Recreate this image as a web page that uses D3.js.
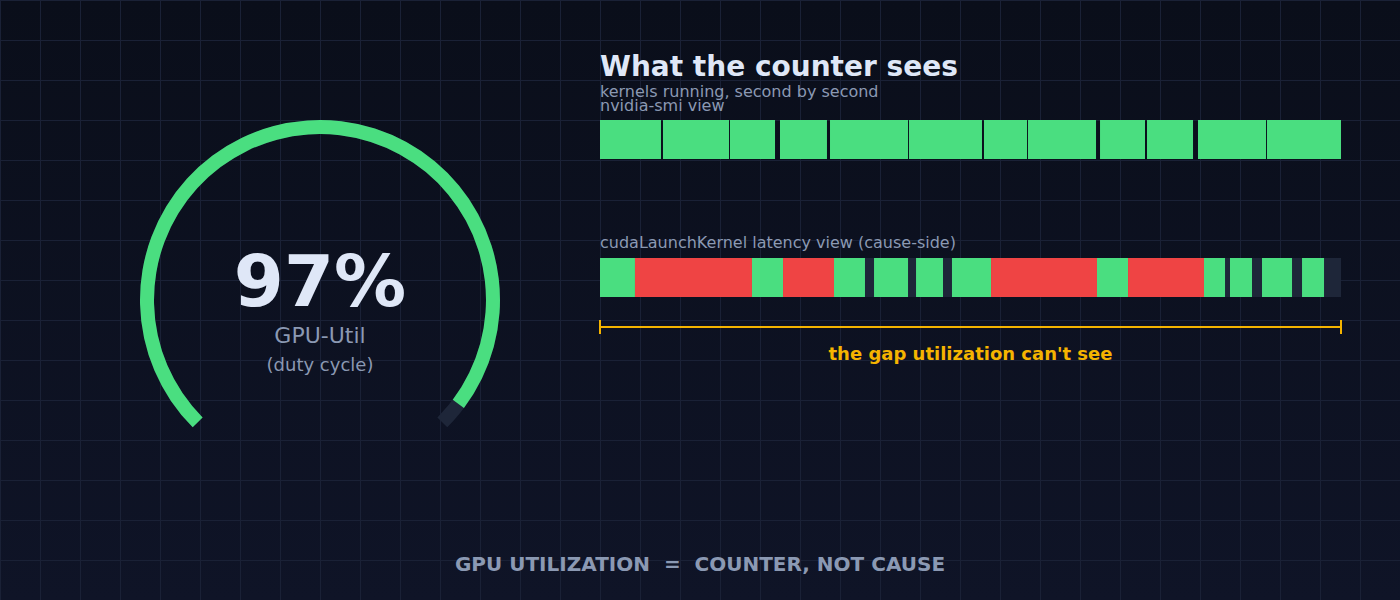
<!DOCTYPE html>
<html>
<head>
<meta charset="utf-8">
<script src="https://cdn.jsdelivr.net/npm/d3@7"></script>
<style>
  html, body { margin: 0; padding: 0; background: #0b101d; }
  svg { display: block; }
  text { font-family: 'DejaVu Sans', sans-serif; }
</style>
</head>
<body>
<svg id="chart" width="1400" height="600"></svg>
<script>
// ── Data ─────────────────────────────────────────────
const gpuUtil = 97;                       // percent, as the counter reports it
const gaugeDomain = [0, 100];

// nvidia-smi view: busy intervals, % of the observed window
const smiSegments = [
  [0, 8.23], [8.5, 17.41], [17.54, 23.62], [24.29, 30.63],
  [31.04, 41.57], [41.7, 51.55], [51.82, 57.63], [57.76, 66.94],
  [67.48, 73.55], [73.82, 80.03], [80.7, 89.88], [90.01, 100]
];

// cudaLaunchKernel view: kernel time vs launch latency, % of window
const launchSegments = [
  { start: 0,     end: 4.72,  kind: 'kernel'  },
  { start: 4.72,  end: 20.51, kind: 'latency' },
  { start: 20.51, end: 24.7,  kind: 'kernel'  },
  { start: 24.7,  end: 31.58, kind: 'latency' },
  { start: 31.58, end: 35.76, kind: 'kernel'  },
  { start: 36.98, end: 41.57, kind: 'kernel'  },
  { start: 42.65, end: 46.29, kind: 'kernel'  },
  { start: 47.5,  end: 52.77, kind: 'kernel'  },
  { start: 52.77, end: 67.07, kind: 'latency' },
  { start: 67.07, end: 71.26, kind: 'kernel'  },
  { start: 71.26, end: 81.51, kind: 'latency' },
  { start: 81.51, end: 84.35, kind: 'kernel'  },
  { start: 85.02, end: 87.99, kind: 'kernel'  },
  { start: 89.34, end: 93.39, kind: 'kernel'  },
  { start: 94.74, end: 97.71, kind: 'kernel'  }
];
const windowDomain = [0, 100];

const titleText    = 'What the counter sees';
const subtitleText = 'kernels running, second by second';
const smiLabel     = 'nvidia-smi view';
const launchLabel  = 'cudaLaunchKernel latency view (cause-side)';
const gapLabel     = "the gap utilization can't see";
const footerText   = 'GPU UTILIZATION  =  COUNTER, NOT CAUSE';

// ── Palette ──────────────────────────────────────────
const C = {
  bgTop: '#0a0e1a', bgBot: '#0f1427', grid: '#1a2136',
  green: '#4ade80', red: '#ef4444', track: '#1e2639',
  amber: '#f5b400', bright: '#dfe7f7', muted: '#8b99b3'
};
const kindColor = { kernel: C.green, latency: C.red };

// ── Canvas ───────────────────────────────────────────
const W = 1400, H = 600;
const svg = d3.select('#chart');

const defs = svg.append('defs');
const grad = defs.append('linearGradient').attr('id', 'bg').attr('x1', 0).attr('y1', 0).attr('x2', 0).attr('y2', 1);
grad.append('stop').attr('offset', '0%').attr('stop-color', C.bgTop);
grad.append('stop').attr('offset', '100%').attr('stop-color', C.bgBot);
svg.append('rect').attr('width', W).attr('height', H).attr('fill', 'url(#bg)');

// grid, 40px cells
const gGrid = svg.append('g').attr('stroke', C.grid).attr('stroke-width', 1);
gGrid.selectAll('line.v').data(d3.range(0, W, 40)).join('line').attr('class', 'v')
  .attr('x1', d => d + 0.5).attr('x2', d => d + 0.5).attr('y1', 0).attr('y2', H);
gGrid.selectAll('line.h').data(d3.range(0, H, 40)).join('line').attr('class', 'h')
  .attr('y1', d => d + 0.5).attr('y2', d => d + 0.5).attr('x1', 0).attr('x2', W);

// ── Gauge ────────────────────────────────────────────
const gx = 320, gy = 300;
const angle = d3.scaleLinear().domain(gaugeDomain).range([-0.75 * Math.PI, 0.75 * Math.PI]);
const arc = d3.arc().innerRadius(166).outerRadius(180);
const gGauge = svg.append('g').attr('transform', `translate(${gx},${gy})`);
gGauge.append('path')
  .attr('d', arc({ startAngle: angle(gaugeDomain[0]), endAngle: angle(gaugeDomain[1]) }))
  .attr('fill', C.track);
gGauge.append('path')
  .attr('d', arc({ startAngle: angle(gaugeDomain[0]), endAngle: angle(gpuUtil) }))
  .attr('fill', C.green);

gGauge.append('text').attr('y', 6).attr('text-anchor', 'middle')
  .attr('font-size', 72).attr('font-weight', 700).attr('fill', C.bright)
  .text(`${gpuUtil}%`);
gGauge.append('text').attr('y', 43).attr('text-anchor', 'middle')
  .attr('font-size', 22).attr('fill', C.muted).text('GPU-Util');
gGauge.append('text').attr('y', 71).attr('text-anchor', 'middle')
  .attr('font-size', 18).attr('fill', C.muted).text('(duty cycle)');

// ── Timelines ────────────────────────────────────────
const x = d3.scaleLinear().domain(windowDomain).range([600, 1341]);
const barH = 39;
const smiY = 120, launchY = 258;

svg.append('text').attr('x', 600).attr('y', 76)
  .attr('font-size', 28).attr('font-weight', 700).attr('fill', C.bright).text(titleText);
svg.append('text').attr('x', 600).attr('y', 97)
  .attr('font-size', 16).attr('fill', C.muted).text(subtitleText);
svg.append('text').attr('x', 600).attr('y', 111)
  .attr('font-size', 16).attr('fill', C.muted).text(smiLabel);

svg.append('g').selectAll('rect').data(smiSegments).join('rect')
  .attr('x', d => x(d[0])).attr('width', d => x(d[1]) - x(d[0]))
  .attr('y', smiY).attr('height', barH).attr('fill', C.green);

svg.append('text').attr('x', 600).attr('y', 248)
  .attr('font-size', 16).attr('fill', C.muted).text(launchLabel);

svg.append('rect')
  .attr('x', x(windowDomain[0])).attr('width', x(windowDomain[1]) - x(windowDomain[0]))
  .attr('y', launchY).attr('height', barH).attr('fill', C.track);
svg.append('g').selectAll('rect').data(launchSegments).join('rect')
  .attr('x', d => x(d.start)).attr('width', d => x(d.end) - x(d.start))
  .attr('y', launchY).attr('height', barH).attr('fill', d => kindColor[d.kind]);

// bracket under the launch view
const by = 327;
const gBr = svg.append('g').attr('stroke', C.amber).attr('stroke-width', 2);
gBr.append('line').attr('x1', x(windowDomain[0])).attr('x2', x(windowDomain[1])).attr('y1', by).attr('y2', by);
gBr.selectAll('line.tick').data(windowDomain).join('line').attr('class', 'tick')
  .attr('x1', d => x(d)).attr('x2', d => x(d)).attr('y1', by - 7).attr('y2', by + 7);
svg.append('text').attr('x', (x(windowDomain[0]) + x(windowDomain[1])) / 2).attr('y', 360)
  .attr('text-anchor', 'middle').attr('font-size', 18).attr('font-weight', 700)
  .attr('fill', C.amber).text(gapLabel);

// ── Footer ───────────────────────────────────────────
svg.append('text').attr('x', W / 2).attr('y', 571).attr('text-anchor', 'middle')
  .attr('font-size', 20).attr('font-weight', 700)
  .attr('fill', C.muted).style('white-space', 'pre').text(footerText);
</script>
</body>
</html>
